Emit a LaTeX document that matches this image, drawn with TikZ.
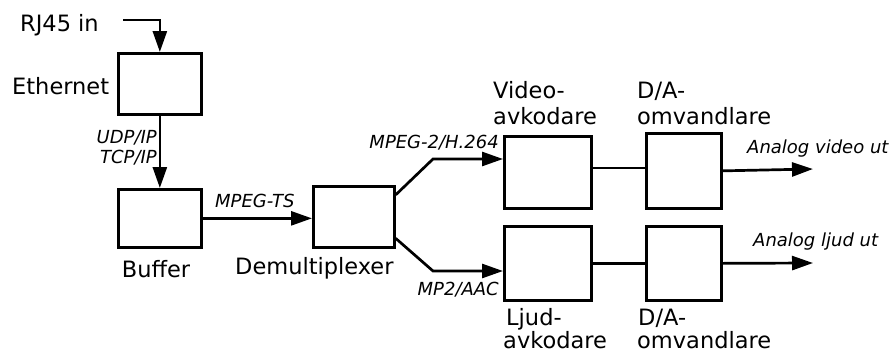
\documentclass[tikz,border=0pt]{standalone}
\usepackage{fontspec}
\setmainfont{DejaVu Sans}
\usetikzlibrary{arrows.meta}
\begin{document}
\begin{tikzpicture}[x=1pt,y=-1pt,
  box/.style={draw, line width=2.7pt, inner sep=0pt, anchor=north west},
  conn/.style={line width=2.7pt},
  arr/.style={line width=2.7pt, -{Triangle[length=21pt,width=14pt]}},
  lbl/.style={inner sep=0pt, font=\fontsize{22.5}{26}\selectfont},
  itl/.style={inner sep=0pt, font=\fontsize{18}{20}\selectfont\itshape}]
\useasboundingbox (0,0) rectangle (893,356);
% boxes
\node[box, minimum width=83pt, minimum height=61pt] (eth) at (117,52) {};
\node[box, minimum width=83pt, minimum height=58pt] (buf) at (117,188) {};
\node[box, minimum width=81pt, minimum height=61pt] (dmx) at (312,185) {};
\node[box, minimum width=87pt, minimum height=72pt] (vdec) at (503,135) {};
\node[box, minimum width=75pt, minimum height=75pt] (vda) at (645,132) {};
\node[box, minimum width=87pt, minimum height=74pt] (adec) at (503,225) {};
\node[box, minimum width=75pt, minimum height=74pt] (ada) at (645,225) {};
% labels
\node[lbl, anchor=base west] (rjl) at (20,31) {RJ45 in};
\node[lbl, anchor=base west] (ethl) at (12,94) {Ethernet};
\node[lbl, anchor=base] (bufl) at (156,277) {Buffer};
\node[lbl, anchor=base west] (dmxl) at (235,274) {Demultiplexer};
\node[lbl, anchor=base west] (vdl1) at (493,98) {Video-};
\node[lbl, anchor=base west] (vdl2) at (493,124) {avkodare};
\node[lbl, anchor=base west] (vdal1) at (637,98) {D/A-};
\node[lbl, anchor=base west] (vdal2) at (637,124) {omvandlare};
\node[lbl, anchor=base west] (adl1) at (506,325) {Ljud-};
\node[lbl, anchor=base west] (adl2) at (503,348) {avkodare};
\node[lbl, anchor=base west] (adal1) at (638,325) {D/A-};
\node[lbl, anchor=base west] (adal2) at (637,348) {omvandlare};
\node[itl, anchor=base east] (udp) at (157,143) {UDP/IP};
\node[itl, anchor=base east] (tcp) at (157,163) {TCP/IP};
\node[itl, anchor=base west] (mts) at (215,207) {MPEG-TS};
\node[itl, anchor=base east] (h264) at (499,148) {MPEG-2/H.264};
\node[itl, anchor=base east] (aac) at (499,295) {MP2/AAC};
\node[itl, anchor=base west] (avo) at (747,153) {Analog video ut};
\node[itl, anchor=base west] (alo) at (753,246) {Analog ljud ut};
% coordinates
\coordinate (rj) at (123,20);
\coordinate (vb) at (433,159);
\coordinate (ab) at (433,271);
\coordinate (vl) at (0,168);
\coordinate (out1) at (813,169);
\coordinate (out2) at (813,263);
% connectors
\draw[arr] (rj) -| (eth.north);
\draw[arr] (eth.south) -- (buf.north);
\draw[arr] (buf.east) -- (buf.east -| dmx.west);
\draw[arr] ([yshift=22pt]dmx.east) -- (vb) -- (vb -| vdec.west);
\draw[arr] ([yshift=-21.5pt]dmx.east) -- (ab) -- (ab -| adec.west);
\draw[conn] (vl -| vdec.east) -- (vl -| vda.west);
\draw[arr] (vda.east) -- (out1);
\draw[conn] (adec.east) -- (ada.west);
\draw[arr] (ada.east) -- (out2);
\end{tikzpicture}
\end{document}
